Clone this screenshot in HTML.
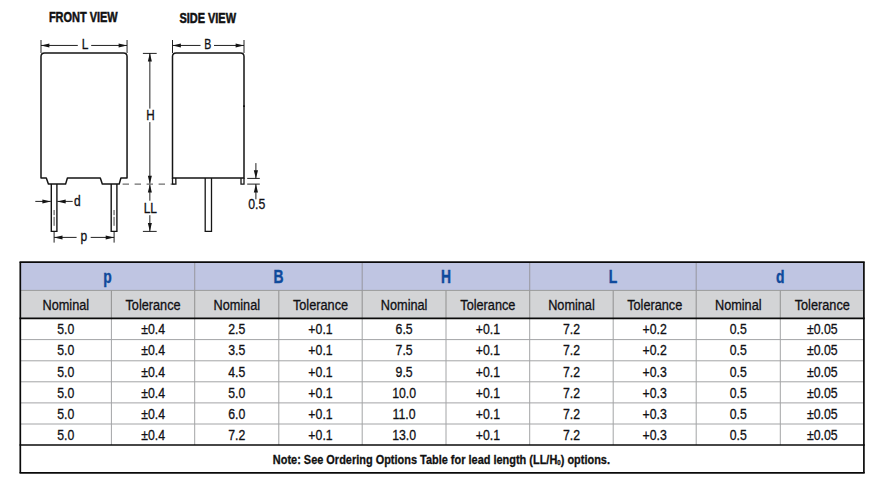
<!DOCTYPE html><html><head><meta charset="utf-8"><title>Dimensions</title>
<style>html,body{margin:0;padding:0;background:#fff;}body{width:878px;height:498px;overflow:hidden;font-family:"Liberation Sans",sans-serif;}svg{display:block;font-family:"Liberation Sans",sans-serif;}</style></head><body>
<svg width="878" height="498" viewBox="0 0 878 498">
<rect width="878" height="498" fill="#fff"/>
<text transform="translate(83.3,21.7) scale(0.784,1)" text-anchor="middle" font-size="14" font-weight="bold" fill="#111" stroke="#111" stroke-width="0.5">FRONT VIEW</text>
<text transform="translate(207.7,22.9) scale(0.784,1)" text-anchor="middle" font-size="14" font-weight="bold" fill="#111" stroke="#111" stroke-width="0.5">SIDE VIEW</text>
<path d="M41.0,178.0 L41.0,56.6 Q41.0,53.0 44.6,53.0 L123.45,53.0 Q127.05,53.0 127.05,56.6 L127.05,178.0 L120.9,178.0 L119.2,184.1 L102.3,184.1 L100.3,178.0 L67.4,178.0 L65.6,184.1 L48.4,184.1 L46.3,178.0 Z" fill="none" stroke="#151515" stroke-width="1.5" stroke-linejoin="round"/>
<path d="M51.3,184.1 L51.3,231.4 L56.9,231.4 L56.9,184.1" fill="none" stroke="#151515" stroke-width="1.4"/>
<line x1="54.099999999999994" y1="210" x2="54.099999999999994" y2="215.2" stroke="#333" stroke-width="0.9" />
<line x1="54.099999999999994" y1="216.8" x2="54.099999999999994" y2="225.8" stroke="#333" stroke-width="0.9" />
<path d="M111.2,184.1 L111.2,231.4 L116.9,231.4 L116.9,184.1" fill="none" stroke="#151515" stroke-width="1.4"/>
<line x1="114.05000000000001" y1="210" x2="114.05000000000001" y2="215.2" stroke="#333" stroke-width="0.9" />
<line x1="114.05000000000001" y1="216.8" x2="114.05000000000001" y2="225.8" stroke="#333" stroke-width="0.9" />
<line x1="41.0" y1="40" x2="41.0" y2="53.0" stroke="#151515" stroke-width="0.95" />
<line x1="127.05" y1="40" x2="127.05" y2="53.0" stroke="#151515" stroke-width="0.95" />
<line x1="41.0" y1="45.45" x2="77.8" y2="45.45" stroke="#151515" stroke-width="0.95" />
<line x1="91.2" y1="45.45" x2="127.05" y2="45.45" stroke="#151515" stroke-width="0.95" />
<polygon points="41.0,45.45 49.4,43.45 49.4,47.45" fill="#151515"/>
<polygon points="127.05,45.45 118.64999999999999,43.45 118.64999999999999,47.45" fill="#151515"/>
<text transform="translate(85.0,49.0) scale(0.84,1)" text-anchor="middle" font-size="14.3" font-weight="normal" fill="#101014" stroke="#101014" stroke-width="0.3">L</text>
<line x1="35.3" y1="201.4" x2="50.8" y2="201.4" stroke="#151515" stroke-width="0.95" />
<polygon points="50.8,201.4 42.4,199.4 42.4,203.4" fill="#151515"/>
<line x1="57.3" y1="201.4" x2="72.7" y2="201.4" stroke="#151515" stroke-width="0.95" />
<polygon points="57.3,201.4 65.7,199.4 65.7,203.4" fill="#151515"/>
<text transform="translate(77.3,205.9) scale(0.84,1)" text-anchor="middle" font-size="14.3" font-weight="normal" fill="#101014" stroke="#101014" stroke-width="0.3">d</text>
<line x1="54.1" y1="231.6" x2="54.1" y2="242.6" stroke="#151515" stroke-width="0.95" />
<line x1="114.1" y1="231.6" x2="114.1" y2="242.6" stroke="#151515" stroke-width="0.95" />
<line x1="54.1" y1="237.4" x2="76.6" y2="237.4" stroke="#151515" stroke-width="0.95" />
<line x1="90.7" y1="237.4" x2="114.1" y2="237.4" stroke="#151515" stroke-width="0.95" />
<polygon points="54.1,237.4 62.5,235.4 62.5,239.4" fill="#151515"/>
<polygon points="114.1,237.4 105.69999999999999,235.4 105.69999999999999,239.4" fill="#151515"/>
<text transform="translate(83.9,240.8) scale(0.84,1)" text-anchor="middle" font-size="14.3" font-weight="normal" fill="#101014" stroke="#101014" stroke-width="0.3">p</text>
<line x1="142.9" y1="53.4" x2="156.7" y2="53.4" stroke="#151515" stroke-width="0.95" />
<line x1="142.9" y1="231.4" x2="156.7" y2="231.4" stroke="#151515" stroke-width="0.95" />
<line x1="149.85" y1="53.0" x2="149.85" y2="108.6" stroke="#151515" stroke-width="0.95" />
<line x1="149.85" y1="122.1" x2="149.85" y2="184.1" stroke="#151515" stroke-width="0.95" />
<polygon points="149.85,53.0 147.85,61.4 151.85,61.4" fill="#151515"/>
<polygon points="149.85,184.1 147.85,175.7 151.85,175.7" fill="#151515"/>
<text transform="translate(150.5,119.9) scale(0.82,1)" text-anchor="middle" font-size="14.3" font-weight="normal" fill="#101014" stroke="#101014" stroke-width="0.3">H</text>
<line x1="149.85" y1="184.1" x2="149.85" y2="200.7" stroke="#151515" stroke-width="0.95" />
<line x1="149.85" y1="215.2" x2="149.85" y2="231.4" stroke="#151515" stroke-width="0.95" />
<polygon points="149.85,184.1 147.85,192.5 151.85,192.5" fill="#151515"/>
<polygon points="149.85,231.4 147.85,223.0 151.85,223.0" fill="#151515"/>
<text transform="translate(150.3,213.0) scale(0.84,1)" text-anchor="middle" font-size="14.3" font-weight="normal" fill="#101014" stroke="#101014" stroke-width="0.3">LL</text>
<line x1="122.6" y1="184.1" x2="174.5" y2="184.1" stroke="#6e6e6e" stroke-width="1.2" stroke-dasharray="6.4 5.6"/>
<path d="M172.5,178.0 L172.5,56.6 Q172.5,53.0 176.1,53.0 L240.4,53.0 Q244.0,53.0 244.0,56.6 L244.0,178.0 Z" fill="none" stroke="#151515" stroke-width="1.5"/>
<path d="M172.5,178.0 L172.5,184.1 L175.9,184.1 L175.8,178.0" fill="none" stroke="#151515" stroke-width="1.3"/>
<path d="M244.0,178.0 L244.0,184.1 L241.0,184.1 L241.0,178.0" fill="none" stroke="#151515" stroke-width="1.3"/>
<path d="M205.2,178.0 L205.2,231.4 L211.5,231.4 L211.5,178.0" fill="none" stroke="#151515" stroke-width="1.3"/>
<rect x="243.2" y="105.4" width="1.6" height="1.5" fill="#000"/>
<line x1="172.5" y1="40" x2="172.5" y2="53.0" stroke="#151515" stroke-width="0.95" />
<line x1="244.0" y1="40" x2="244.0" y2="53.0" stroke="#151515" stroke-width="0.95" />
<line x1="172.5" y1="45.45" x2="200.5" y2="45.45" stroke="#151515" stroke-width="0.95" />
<line x1="214" y1="45.45" x2="244.0" y2="45.45" stroke="#151515" stroke-width="0.95" />
<polygon points="172.5,45.45 180.9,43.45 180.9,47.45" fill="#151515"/>
<polygon points="244.0,45.45 235.6,43.45 235.6,47.45" fill="#151515"/>
<text transform="translate(207.85,49.0) scale(0.74,1)" text-anchor="middle" font-size="14.3" font-weight="normal" fill="#101014" stroke="#101014" stroke-width="0.3">B</text>
<line x1="247.2" y1="178.4" x2="259.8" y2="178.4" stroke="#151515" stroke-width="0.95" />
<line x1="247.2" y1="184.1" x2="259.8" y2="184.1" stroke="#151515" stroke-width="0.95" />
<line x1="255.9" y1="163.1" x2="255.9" y2="178.4" stroke="#151515" stroke-width="0.95" />
<polygon points="255.9,178.4 253.8,170.20000000000002 258.0,170.20000000000002" fill="#151515"/>
<line x1="255.9" y1="184.1" x2="255.9" y2="199.3" stroke="#151515" stroke-width="0.95" />
<polygon points="255.9,184.1 253.8,192.5 258.0,192.5" fill="#151515"/>
<text transform="translate(256.7,209.0) scale(0.86,1)" text-anchor="middle" font-size="14.3" font-weight="normal" fill="#101014" stroke="#101014" stroke-width="0.3">0.5</text>
<rect x="20.3" y="262.2" width="843.6" height="28.19999999999999" fill="#bfc5e2"/>
<rect x="20.3" y="290.4" width="843.6" height="27.900000000000034" fill="#d3d4d6"/>
<line x1="20.3" y1="290.4" x2="863.9" y2="290.4" stroke="#9a9a9a" stroke-width="1" />
<line x1="20.3" y1="339.6" x2="863.9" y2="339.6" stroke="#a3a4a6" stroke-width="1" />
<line x1="20.3" y1="360.8" x2="863.9" y2="360.8" stroke="#a3a4a6" stroke-width="1" />
<line x1="20.3" y1="381.8" x2="863.9" y2="381.8" stroke="#a3a4a6" stroke-width="1" />
<line x1="20.3" y1="402.9" x2="863.9" y2="402.9" stroke="#a3a4a6" stroke-width="1" />
<line x1="20.3" y1="424.0" x2="863.9" y2="424.0" stroke="#a3a4a6" stroke-width="1" />
<line x1="111.4" y1="290.4" x2="111.4" y2="318.3" stroke="#969696" stroke-width="1.1" />
<line x1="111.4" y1="318.3" x2="111.4" y2="445.0" stroke="#a3a4a6" stroke-width="1" />
<line x1="194.7" y1="262.2" x2="194.7" y2="290.4" stroke="#9a9aa4" stroke-width="1.1" />
<line x1="194.7" y1="290.4" x2="194.7" y2="318.3" stroke="#969696" stroke-width="1.1" />
<line x1="194.7" y1="318.3" x2="194.7" y2="445.0" stroke="#a3a4a6" stroke-width="1" />
<line x1="278.8" y1="290.4" x2="278.8" y2="318.3" stroke="#969696" stroke-width="1.1" />
<line x1="278.8" y1="318.3" x2="278.8" y2="445.0" stroke="#a3a4a6" stroke-width="1" />
<line x1="362.2" y1="262.2" x2="362.2" y2="290.4" stroke="#9a9aa4" stroke-width="1.1" />
<line x1="362.2" y1="290.4" x2="362.2" y2="318.3" stroke="#969696" stroke-width="1.1" />
<line x1="362.2" y1="318.3" x2="362.2" y2="445.0" stroke="#a3a4a6" stroke-width="1" />
<line x1="446.0" y1="290.4" x2="446.0" y2="318.3" stroke="#969696" stroke-width="1.1" />
<line x1="446.0" y1="318.3" x2="446.0" y2="445.0" stroke="#a3a4a6" stroke-width="1" />
<line x1="529.7" y1="262.2" x2="529.7" y2="290.4" stroke="#9a9aa4" stroke-width="1.1" />
<line x1="529.7" y1="290.4" x2="529.7" y2="318.3" stroke="#969696" stroke-width="1.1" />
<line x1="529.7" y1="318.3" x2="529.7" y2="445.0" stroke="#a3a4a6" stroke-width="1" />
<line x1="613.2" y1="290.4" x2="613.2" y2="318.3" stroke="#969696" stroke-width="1.1" />
<line x1="613.2" y1="318.3" x2="613.2" y2="445.0" stroke="#a3a4a6" stroke-width="1" />
<line x1="696.2" y1="262.2" x2="696.2" y2="290.4" stroke="#9a9aa4" stroke-width="1.1" />
<line x1="696.2" y1="290.4" x2="696.2" y2="318.3" stroke="#969696" stroke-width="1.1" />
<line x1="696.2" y1="318.3" x2="696.2" y2="445.0" stroke="#a3a4a6" stroke-width="1" />
<line x1="780.3" y1="290.4" x2="780.3" y2="318.3" stroke="#969696" stroke-width="1.1" />
<line x1="780.3" y1="318.3" x2="780.3" y2="445.0" stroke="#a3a4a6" stroke-width="1" />
<line x1="19.5" y1="262.2" x2="864.6999999999999" y2="262.2" stroke="#0a0a0a" stroke-width="1.7" />
<line x1="19.5" y1="318.3" x2="864.6999999999999" y2="318.3" stroke="#0a0a0a" stroke-width="1.7" />
<line x1="19.5" y1="445.0" x2="864.6999999999999" y2="445.0" stroke="#0a0a0a" stroke-width="1.7" />
<line x1="19.5" y1="472.9" x2="864.6999999999999" y2="472.9" stroke="#0a0a0a" stroke-width="1.8" />
<line x1="20.3" y1="262.2" x2="20.3" y2="472.9" stroke="#0a0a0a" stroke-width="1.7" />
<line x1="863.9" y1="262.2" x2="863.9" y2="472.9" stroke="#0a0a0a" stroke-width="1.7" />
<text transform="translate(107.44999999999999,283) scale(0.78,1)" text-anchor="middle" font-size="17.8" font-weight="bold" fill="#0f4a9c" stroke="#0f4a9c" stroke-width="0.4">p</text>
<text transform="translate(278.45,283) scale(0.78,1)" text-anchor="middle" font-size="17.8" font-weight="bold" fill="#0f4a9c" stroke="#0f4a9c" stroke-width="0.4">B</text>
<text transform="translate(445.95000000000005,283) scale(0.78,1)" text-anchor="middle" font-size="17.8" font-weight="bold" fill="#0f4a9c" stroke="#0f4a9c" stroke-width="0.4">H</text>
<text transform="translate(612.95,283) scale(0.78,1)" text-anchor="middle" font-size="17.8" font-weight="bold" fill="#0f4a9c" stroke="#0f4a9c" stroke-width="0.4">L</text>
<text transform="translate(780.2,283) scale(0.78,1)" text-anchor="middle" font-size="17.8" font-weight="bold" fill="#0f4a9c" stroke="#0f4a9c" stroke-width="0.4">d</text>
<text transform="translate(65.8,309.9) scale(0.89,1)" text-anchor="middle" font-size="14.3" font-weight="normal" fill="#101014" stroke="#101014" stroke-width="0.3">Nominal</text>
<text transform="translate(153.05,309.9) scale(0.89,1)" text-anchor="middle" font-size="14.3" font-weight="normal" fill="#101014" stroke="#101014" stroke-width="0.3">Tolerance</text>
<text transform="translate(236.75,309.9) scale(0.89,1)" text-anchor="middle" font-size="14.3" font-weight="normal" fill="#101014" stroke="#101014" stroke-width="0.3">Nominal</text>
<text transform="translate(320.5,309.9) scale(0.89,1)" text-anchor="middle" font-size="14.3" font-weight="normal" fill="#101014" stroke="#101014" stroke-width="0.3">Tolerance</text>
<text transform="translate(404.1,309.9) scale(0.89,1)" text-anchor="middle" font-size="14.3" font-weight="normal" fill="#101014" stroke="#101014" stroke-width="0.3">Nominal</text>
<text transform="translate(487.85,309.9) scale(0.89,1)" text-anchor="middle" font-size="14.3" font-weight="normal" fill="#101014" stroke="#101014" stroke-width="0.3">Tolerance</text>
<text transform="translate(571.45,309.9) scale(0.89,1)" text-anchor="middle" font-size="14.3" font-weight="normal" fill="#101014" stroke="#101014" stroke-width="0.3">Nominal</text>
<text transform="translate(654.7,309.9) scale(0.89,1)" text-anchor="middle" font-size="14.3" font-weight="normal" fill="#101014" stroke="#101014" stroke-width="0.3">Tolerance</text>
<text transform="translate(738.25,309.9) scale(0.89,1)" text-anchor="middle" font-size="14.3" font-weight="normal" fill="#101014" stroke="#101014" stroke-width="0.3">Nominal</text>
<text transform="translate(822.25,309.9) scale(0.89,1)" text-anchor="middle" font-size="14.3" font-weight="normal" fill="#101014" stroke="#101014" stroke-width="0.3">Tolerance</text>
<text transform="translate(65.8,334.0) scale(0.86,1)" text-anchor="middle" font-size="14.3" font-weight="normal" fill="#101014" stroke="#101014" stroke-width="0.3">5.0</text>
<text transform="translate(153.05,334.0) scale(0.86,1)" text-anchor="middle" font-size="14.3" font-weight="normal" fill="#101014" stroke="#101014" stroke-width="0.3">±0.4</text>
<text transform="translate(236.75,334.0) scale(0.86,1)" text-anchor="middle" font-size="14.3" font-weight="normal" fill="#101014" stroke="#101014" stroke-width="0.3">2.5</text>
<text transform="translate(320.5,334.0) scale(0.86,1)" text-anchor="middle" font-size="14.3" font-weight="normal" fill="#101014" stroke="#101014" stroke-width="0.3">+0.1</text>
<text transform="translate(404.1,334.0) scale(0.86,1)" text-anchor="middle" font-size="14.3" font-weight="normal" fill="#101014" stroke="#101014" stroke-width="0.3">6.5</text>
<text transform="translate(487.85,334.0) scale(0.86,1)" text-anchor="middle" font-size="14.3" font-weight="normal" fill="#101014" stroke="#101014" stroke-width="0.3">+0.1</text>
<text transform="translate(571.45,334.0) scale(0.86,1)" text-anchor="middle" font-size="14.3" font-weight="normal" fill="#101014" stroke="#101014" stroke-width="0.3">7.2</text>
<text transform="translate(654.7,334.0) scale(0.86,1)" text-anchor="middle" font-size="14.3" font-weight="normal" fill="#101014" stroke="#101014" stroke-width="0.3">+0.2</text>
<text transform="translate(738.25,334.0) scale(0.86,1)" text-anchor="middle" font-size="14.3" font-weight="normal" fill="#101014" stroke="#101014" stroke-width="0.3">0.5</text>
<text transform="translate(822.25,334.0) scale(0.86,1)" text-anchor="middle" font-size="14.3" font-weight="normal" fill="#101014" stroke="#101014" stroke-width="0.3">±0.05</text>
<text transform="translate(65.8,355.3) scale(0.86,1)" text-anchor="middle" font-size="14.3" font-weight="normal" fill="#101014" stroke="#101014" stroke-width="0.3">5.0</text>
<text transform="translate(153.05,355.3) scale(0.86,1)" text-anchor="middle" font-size="14.3" font-weight="normal" fill="#101014" stroke="#101014" stroke-width="0.3">±0.4</text>
<text transform="translate(236.75,355.3) scale(0.86,1)" text-anchor="middle" font-size="14.3" font-weight="normal" fill="#101014" stroke="#101014" stroke-width="0.3">3.5</text>
<text transform="translate(320.5,355.3) scale(0.86,1)" text-anchor="middle" font-size="14.3" font-weight="normal" fill="#101014" stroke="#101014" stroke-width="0.3">+0.1</text>
<text transform="translate(404.1,355.3) scale(0.86,1)" text-anchor="middle" font-size="14.3" font-weight="normal" fill="#101014" stroke="#101014" stroke-width="0.3">7.5</text>
<text transform="translate(487.85,355.3) scale(0.86,1)" text-anchor="middle" font-size="14.3" font-weight="normal" fill="#101014" stroke="#101014" stroke-width="0.3">+0.1</text>
<text transform="translate(571.45,355.3) scale(0.86,1)" text-anchor="middle" font-size="14.3" font-weight="normal" fill="#101014" stroke="#101014" stroke-width="0.3">7.2</text>
<text transform="translate(654.7,355.3) scale(0.86,1)" text-anchor="middle" font-size="14.3" font-weight="normal" fill="#101014" stroke="#101014" stroke-width="0.3">+0.2</text>
<text transform="translate(738.25,355.3) scale(0.86,1)" text-anchor="middle" font-size="14.3" font-weight="normal" fill="#101014" stroke="#101014" stroke-width="0.3">0.5</text>
<text transform="translate(822.25,355.3) scale(0.86,1)" text-anchor="middle" font-size="14.3" font-weight="normal" fill="#101014" stroke="#101014" stroke-width="0.3">±0.05</text>
<text transform="translate(65.8,377.0) scale(0.86,1)" text-anchor="middle" font-size="14.3" font-weight="normal" fill="#101014" stroke="#101014" stroke-width="0.3">5.0</text>
<text transform="translate(153.05,377.0) scale(0.86,1)" text-anchor="middle" font-size="14.3" font-weight="normal" fill="#101014" stroke="#101014" stroke-width="0.3">±0.4</text>
<text transform="translate(236.75,377.0) scale(0.86,1)" text-anchor="middle" font-size="14.3" font-weight="normal" fill="#101014" stroke="#101014" stroke-width="0.3">4.5</text>
<text transform="translate(320.5,377.0) scale(0.86,1)" text-anchor="middle" font-size="14.3" font-weight="normal" fill="#101014" stroke="#101014" stroke-width="0.3">+0.1</text>
<text transform="translate(404.1,377.0) scale(0.86,1)" text-anchor="middle" font-size="14.3" font-weight="normal" fill="#101014" stroke="#101014" stroke-width="0.3">9.5</text>
<text transform="translate(487.85,377.0) scale(0.86,1)" text-anchor="middle" font-size="14.3" font-weight="normal" fill="#101014" stroke="#101014" stroke-width="0.3">+0.1</text>
<text transform="translate(571.45,377.0) scale(0.86,1)" text-anchor="middle" font-size="14.3" font-weight="normal" fill="#101014" stroke="#101014" stroke-width="0.3">7.2</text>
<text transform="translate(654.7,377.0) scale(0.86,1)" text-anchor="middle" font-size="14.3" font-weight="normal" fill="#101014" stroke="#101014" stroke-width="0.3">+0.3</text>
<text transform="translate(738.25,377.0) scale(0.86,1)" text-anchor="middle" font-size="14.3" font-weight="normal" fill="#101014" stroke="#101014" stroke-width="0.3">0.5</text>
<text transform="translate(822.25,377.0) scale(0.86,1)" text-anchor="middle" font-size="14.3" font-weight="normal" fill="#101014" stroke="#101014" stroke-width="0.3">±0.05</text>
<text transform="translate(65.8,398.1) scale(0.86,1)" text-anchor="middle" font-size="14.3" font-weight="normal" fill="#101014" stroke="#101014" stroke-width="0.3">5.0</text>
<text transform="translate(153.05,398.1) scale(0.86,1)" text-anchor="middle" font-size="14.3" font-weight="normal" fill="#101014" stroke="#101014" stroke-width="0.3">±0.4</text>
<text transform="translate(236.75,398.1) scale(0.86,1)" text-anchor="middle" font-size="14.3" font-weight="normal" fill="#101014" stroke="#101014" stroke-width="0.3">5.0</text>
<text transform="translate(320.5,398.1) scale(0.86,1)" text-anchor="middle" font-size="14.3" font-weight="normal" fill="#101014" stroke="#101014" stroke-width="0.3">+0.1</text>
<text transform="translate(404.1,398.1) scale(0.86,1)" text-anchor="middle" font-size="14.3" font-weight="normal" fill="#101014" stroke="#101014" stroke-width="0.3">10.0</text>
<text transform="translate(487.85,398.1) scale(0.86,1)" text-anchor="middle" font-size="14.3" font-weight="normal" fill="#101014" stroke="#101014" stroke-width="0.3">+0.1</text>
<text transform="translate(571.45,398.1) scale(0.86,1)" text-anchor="middle" font-size="14.3" font-weight="normal" fill="#101014" stroke="#101014" stroke-width="0.3">7.2</text>
<text transform="translate(654.7,398.1) scale(0.86,1)" text-anchor="middle" font-size="14.3" font-weight="normal" fill="#101014" stroke="#101014" stroke-width="0.3">+0.3</text>
<text transform="translate(738.25,398.1) scale(0.86,1)" text-anchor="middle" font-size="14.3" font-weight="normal" fill="#101014" stroke="#101014" stroke-width="0.3">0.5</text>
<text transform="translate(822.25,398.1) scale(0.86,1)" text-anchor="middle" font-size="14.3" font-weight="normal" fill="#101014" stroke="#101014" stroke-width="0.3">±0.05</text>
<text transform="translate(65.8,419.0) scale(0.86,1)" text-anchor="middle" font-size="14.3" font-weight="normal" fill="#101014" stroke="#101014" stroke-width="0.3">5.0</text>
<text transform="translate(153.05,419.0) scale(0.86,1)" text-anchor="middle" font-size="14.3" font-weight="normal" fill="#101014" stroke="#101014" stroke-width="0.3">±0.4</text>
<text transform="translate(236.75,419.0) scale(0.86,1)" text-anchor="middle" font-size="14.3" font-weight="normal" fill="#101014" stroke="#101014" stroke-width="0.3">6.0</text>
<text transform="translate(320.5,419.0) scale(0.86,1)" text-anchor="middle" font-size="14.3" font-weight="normal" fill="#101014" stroke="#101014" stroke-width="0.3">+0.1</text>
<text transform="translate(404.1,419.0) scale(0.86,1)" text-anchor="middle" font-size="14.3" font-weight="normal" fill="#101014" stroke="#101014" stroke-width="0.3">11.0</text>
<text transform="translate(487.85,419.0) scale(0.86,1)" text-anchor="middle" font-size="14.3" font-weight="normal" fill="#101014" stroke="#101014" stroke-width="0.3">+0.1</text>
<text transform="translate(571.45,419.0) scale(0.86,1)" text-anchor="middle" font-size="14.3" font-weight="normal" fill="#101014" stroke="#101014" stroke-width="0.3">7.2</text>
<text transform="translate(654.7,419.0) scale(0.86,1)" text-anchor="middle" font-size="14.3" font-weight="normal" fill="#101014" stroke="#101014" stroke-width="0.3">+0.3</text>
<text transform="translate(738.25,419.0) scale(0.86,1)" text-anchor="middle" font-size="14.3" font-weight="normal" fill="#101014" stroke="#101014" stroke-width="0.3">0.5</text>
<text transform="translate(822.25,419.0) scale(0.86,1)" text-anchor="middle" font-size="14.3" font-weight="normal" fill="#101014" stroke="#101014" stroke-width="0.3">±0.05</text>
<text transform="translate(65.8,440.3) scale(0.86,1)" text-anchor="middle" font-size="14.3" font-weight="normal" fill="#101014" stroke="#101014" stroke-width="0.3">5.0</text>
<text transform="translate(153.05,440.3) scale(0.86,1)" text-anchor="middle" font-size="14.3" font-weight="normal" fill="#101014" stroke="#101014" stroke-width="0.3">±0.4</text>
<text transform="translate(236.75,440.3) scale(0.86,1)" text-anchor="middle" font-size="14.3" font-weight="normal" fill="#101014" stroke="#101014" stroke-width="0.3">7.2</text>
<text transform="translate(320.5,440.3) scale(0.86,1)" text-anchor="middle" font-size="14.3" font-weight="normal" fill="#101014" stroke="#101014" stroke-width="0.3">+0.1</text>
<text transform="translate(404.1,440.3) scale(0.86,1)" text-anchor="middle" font-size="14.3" font-weight="normal" fill="#101014" stroke="#101014" stroke-width="0.3">13.0</text>
<text transform="translate(487.85,440.3) scale(0.86,1)" text-anchor="middle" font-size="14.3" font-weight="normal" fill="#101014" stroke="#101014" stroke-width="0.3">+0.1</text>
<text transform="translate(571.45,440.3) scale(0.86,1)" text-anchor="middle" font-size="14.3" font-weight="normal" fill="#101014" stroke="#101014" stroke-width="0.3">7.2</text>
<text transform="translate(654.7,440.3) scale(0.86,1)" text-anchor="middle" font-size="14.3" font-weight="normal" fill="#101014" stroke="#101014" stroke-width="0.3">+0.3</text>
<text transform="translate(738.25,440.3) scale(0.86,1)" text-anchor="middle" font-size="14.3" font-weight="normal" fill="#101014" stroke="#101014" stroke-width="0.3">0.5</text>
<text transform="translate(822.25,440.3) scale(0.86,1)" text-anchor="middle" font-size="14.3" font-weight="normal" fill="#101014" stroke="#101014" stroke-width="0.3">±0.05</text>
<text transform="translate(441.4,463.9) scale(0.876,1)" text-anchor="middle" font-size="12.5" font-weight="bold" fill="#111" stroke="#111" stroke-width="0.3">Note: See Ordering Options Table for lead length (LL/H<tspan font-size="7" dy="1.5">0</tspan><tspan dy="-1.5">) options.</tspan></text>
</svg></body></html>
